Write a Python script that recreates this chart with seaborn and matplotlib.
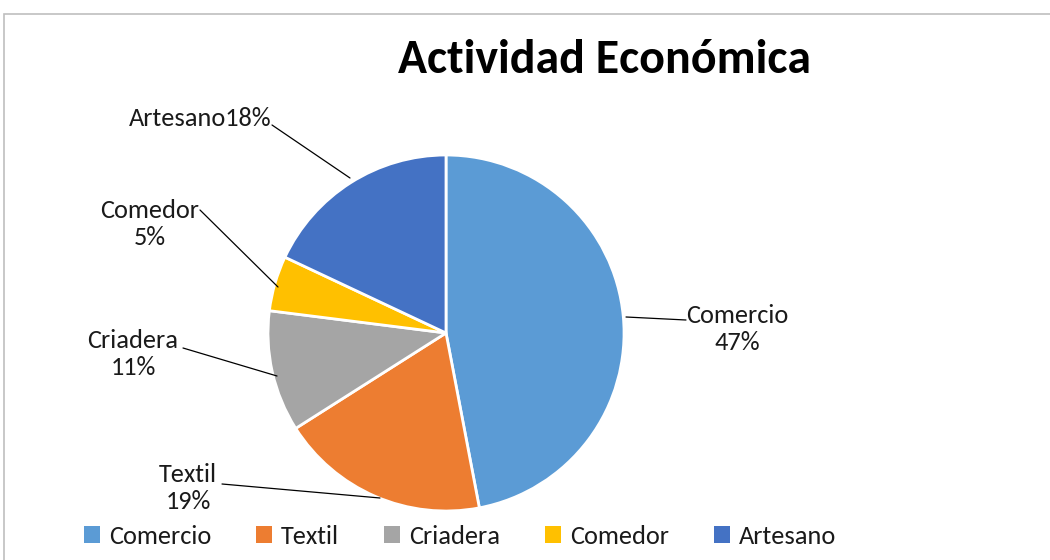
import matplotlib
matplotlib.use("Agg")
import matplotlib.pyplot as plt
from matplotlib import font_manager
from matplotlib.patches import Rectangle
import seaborn as sns

categories = ["Comercio", "Textil", "Criadera", "Comedor", "Artesano"]
values = [47, 19, 11, 5, 18]
colors = ["#5B9BD5", "#ED7D31", "#A5A5A5", "#FFC000", "#4472C4"]
title = "Actividad Económica"

sns.set_theme(style="white")
avail = {f.name for f in font_manager.fontManager.ttflist}
fam = [f for f in ["Carlito", "Lato", "DejaVu Sans"] if f in avail]
plt.rcParams["font.family"] = fam

W, H = 1050, 560
fig = plt.figure(figsize=(W / 100, H / 100), dpi=100)
ax = fig.add_axes([0, 0, 1, 1])

cx, cy, r = 446, H - 333, 178
explode = [0.04, 0, 0, 0.03, 0]
wedges, _ = ax.pie(values, colors=sns.color_palette(colors), startangle=90,
                   counterclock=False, center=(cx, cy), radius=r,
                   explode=explode, frame=True,
                   wedgeprops=dict(edgecolor="white", linewidth=2))
ax.set_xlim(0, W)
ax.set_ylim(0, H)
ax.axis("off")

lab_fs = 19
# text x, text y (from top), alignment, leader line points (layout only)
layout = [
    (737, 329, "center", [(686, 320), (626, 317)]),
    (188, 488, "center", [(222, 484), (380, 498)]),
    (133, 354, "center", [(183, 348), (277, 376)]),
    (150, 224, "center", [(200, 210), (278, 287)]),
    (272, 118, "right", [(272, 125), (350, 178)]),
]
for i, (tx, ty, ha, pts) in enumerate(layout):
    pct = f"{values[i]}%"
    name = categories[i]
    s = f"{name}{pct}" if ha == "right" else f"{name}\n{pct}"
    ax.text(tx, H - ty, s, ha=ha, va="center", fontsize=lab_fs,
            color="#1a1a1a", linespacing=1.2)
    xs = [p[0] for p in pts]
    ys = [H - p[1] for p in pts]
    ax.plot(xs, ys, color="black", lw=0.9)

fig.text(605 / W, 1 - 60 / H, title, ha="center", va="center",
         fontsize=34.5, fontweight="bold", color="black")

handles = [Rectangle((0, 0), 1, 1, facecolor=c, edgecolor="none") for c in colors]
leg = fig.legend(handles, categories, loc="center", ncol=5,
                 bbox_to_anchor=(460 / W, 1 - 536 / H), frameon=False,
                 fontsize=lab_fs, handlelength=0.6, handleheight=0.6,
                 handletextpad=0.35, columnspacing=1.7, borderaxespad=0,
                 borderpad=0)
for t in leg.get_texts():
    t.set_color("#1a1a1a")

fig.patches.append(Rectangle((4 / W, -0.1), 1.2, 1.1 - 14 / H,
                             transform=fig.transFigure, fill=False,
                             edgecolor="#BFBFBF", lw=1.2))

fig.savefig("out.png", dpi=100, facecolor="white")
